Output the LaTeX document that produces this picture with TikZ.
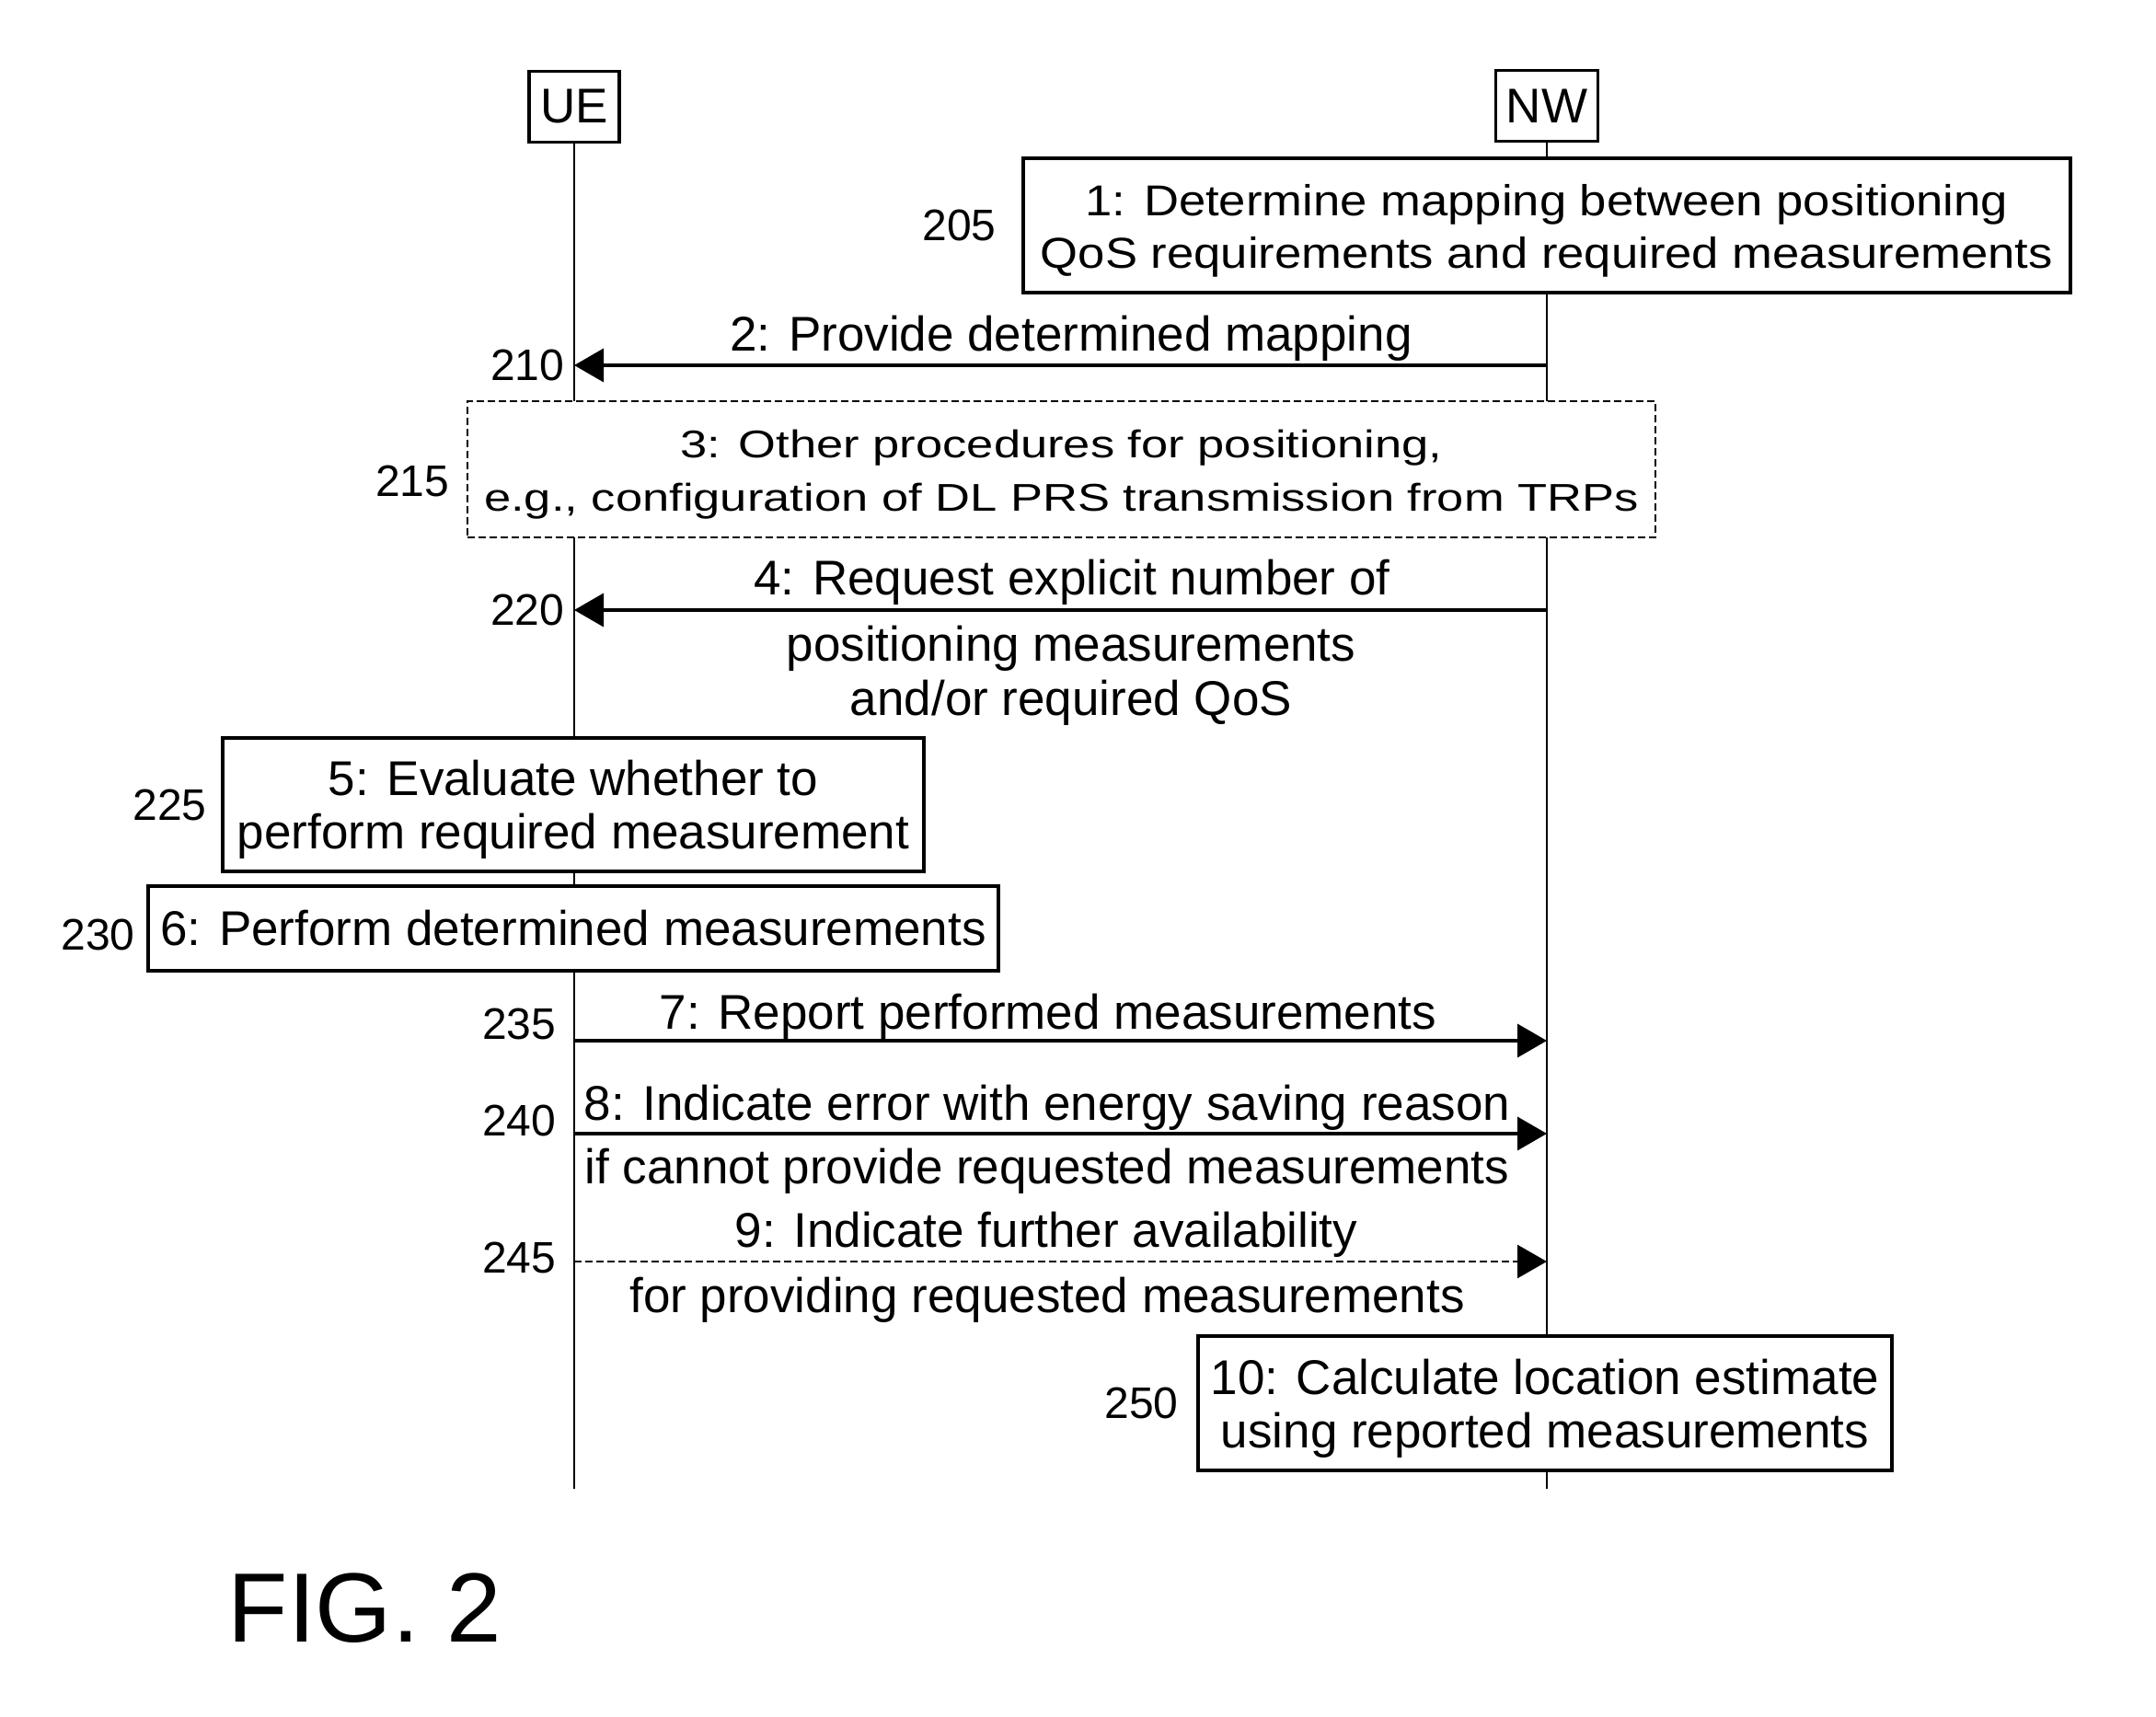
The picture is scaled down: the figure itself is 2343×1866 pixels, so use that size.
\documentclass[tikz,border=0pt]{standalone}
\usepackage{fontspec}
\setmainfont{Liberation Sans}
\newfontfamily\widefont[FakeStretch=1.12]{Liberation Sans}
\newfontfamily\widerfont[FakeStretch=1.25]{Liberation Sans}
\usetikzlibrary{arrows.meta,positioning}
\tikzset{
	entity/.style={
		draw, line width=1pt, fill=white, inner sep=0pt,
		minimum height=23.2pt, font=\fontsize{15.9}{18}\selectfont
	},
	stepbox/.style={
		draw, line width=1pt, fill=white, inner sep=0pt, align=center,
		font=\fontsize{15.9}{17.3}\selectfont
	},
	otherbox/.style={
		draw, line width=0.6pt, dash pattern=on 2.4pt off 1.2pt,
		fill=white, inner sep=0pt
	},
	steptext/.style={inner sep=0pt, align=center, font=\fontsize{15.9}{17.3}\selectfont},
	refnum/.style={inner sep=0pt, font=\fontsize{14.4}{16}\selectfont},
	msgtext/.style={inner sep=0pt, anchor=base, font=\fontsize{15.9}{18}\selectfont},
	lifeline/.style={line width=0.8pt},
	msg/.style={line width=1.1pt, -{Triangle[length=9.6pt,width=10.8pt]}},
	msgdashed/.style={msg, line width=0.8pt, dash pattern=on 2.4pt off 1.2pt}
}
\begin{document}
\begin{tikzpicture}[x=0.3pt, y=-0.3pt]
	\useasboundingbox (0,0) rectangle (2343,1866);
	\node[entity, minimum width=29.4pt] (UE) at (624,116) {UE};
	\node[entity, minimum width=33.3pt] (NW) at (1681,115) {NW};
	\coordinate (UEend) at (624,1618);
	\coordinate (NWend) at (1681,1618);
	\draw[lifeline] (UE) -- (UEend);
	\draw[lifeline] (NW) -- (NWend);

	\node[stepbox, minimum width=341.4pt, minimum height=43.8pt] (map) at (1681,245) {};
	\node[steptext, font=\widefont\fontsize{14.1}{17.1}\selectfont] (maptext)
		at ([yshift=-1.8pt]map.center)
		{1: Determine mapping between positioning\\QoS requirements and required measurements};
	\node[refnum, left=8.1pt of map] (r205) {205};

	\coordinate (u2) at (624,397);
	\coordinate (n2) at (1681,397);
	\draw[msg] (n2) -- (u2);
	\node[msgtext] (t2) at (1164,382) {2: Provide determined mapping};
	\node[refnum, left=3pt of u2] (r210) {210};

	\node[otherbox, minimum width=387.3pt, minimum height=44.4pt] (other) at (1153.5,510) {};
	\node[steptext, font=\widerfont\fontsize{12.6}{17.4}\selectfont] (othertext)
		at ([yshift=-1.6pt]other.center)
		{3: Other procedures for positioning,\\e.g., configuration of DL PRS transmission from TRPs};
	\node[refnum, left=5.4pt of other, yshift=-3.9pt] (r215) {215};

	\coordinate (u4) at (624,663);
	\coordinate (n4) at (1681,663);
	\draw[msg] (n4) -- (u4);
	\node[msgtext] (t4a) at (1165,647) {4: Request explicit number of};
	\node[msgtext] (t4b) at (1164,719) {positioning measurements};
	\node[msgtext] (t4c) at (1164,778) {and/or required QoS};
	\node[refnum, left=3pt of u4] (r220) {220};

	\node[stepbox, minimum width=228.6pt, minimum height=43.5pt] (eval) at (623,874.5) {};
	\node[steptext] (evaltext) at ([yshift=-1.6pt]eval.center)
		{5: Evaluate whether to\\perform required measurement};
	\node[refnum, left=4.5pt of eval] (r225) {225};

	\node[stepbox, minimum width=277.2pt, minimum height=27.6pt] (perf) at (623,1009)
		{6: Perform determined measurements};
	\node[refnum, left=3.6pt of perf, yshift=-2pt] (r230) {230};

	\coordinate (u7) at (624,1131);
	\coordinate (n7) at (1681,1131);
	\draw[msg] (u7) -- (n7);
	\node[msgtext] (t7) at (1139,1118) {7: Report performed measurements};
	\node[refnum, left=5.7pt of u7, yshift=5.4pt] (r235) {235};

	\coordinate (u8) at (624,1232);
	\coordinate (n8) at (1681,1232);
	\draw[msg] (u8) -- (n8);
	\node[msgtext] (t8a) at (1138,1217) {8: Indicate error with energy saving reason};
	\node[msgtext] (t8b) at (1138,1286) {if cannot provide requested measurements};
	\node[refnum, left=5.7pt of u8, yshift=4.2pt] (r240) {240};

	\coordinate (u9) at (624,1371);
	\coordinate (n9) at (1681,1371);
	\draw[msgdashed] (u9) -- (n9);
	\node[msgtext] (t9a) at (1137,1355) {9: Indicate further availability};
	\node[msgtext] (t9b) at (1138,1426) {for providing requested measurements};
	\node[refnum, left=5.7pt of u9, yshift=1.2pt] (r245) {245};

	\node[stepbox, minimum width=226.2pt, minimum height=43.8pt] (calc) at (1679,1525) {};
	\node[steptext] (calctext) at ([yshift=-1.8pt]calc.center)
		{10: Calculate location estimate\\using reported measurements};
	\node[refnum, left=5.7pt of calc] (r250) {250};

	\node[anchor=base west, inner sep=0pt, font=\fontsize{32.1}{36}\selectfont] (fig) at (247,1784) {FIG. 2};
\end{tikzpicture}
\end{document}
